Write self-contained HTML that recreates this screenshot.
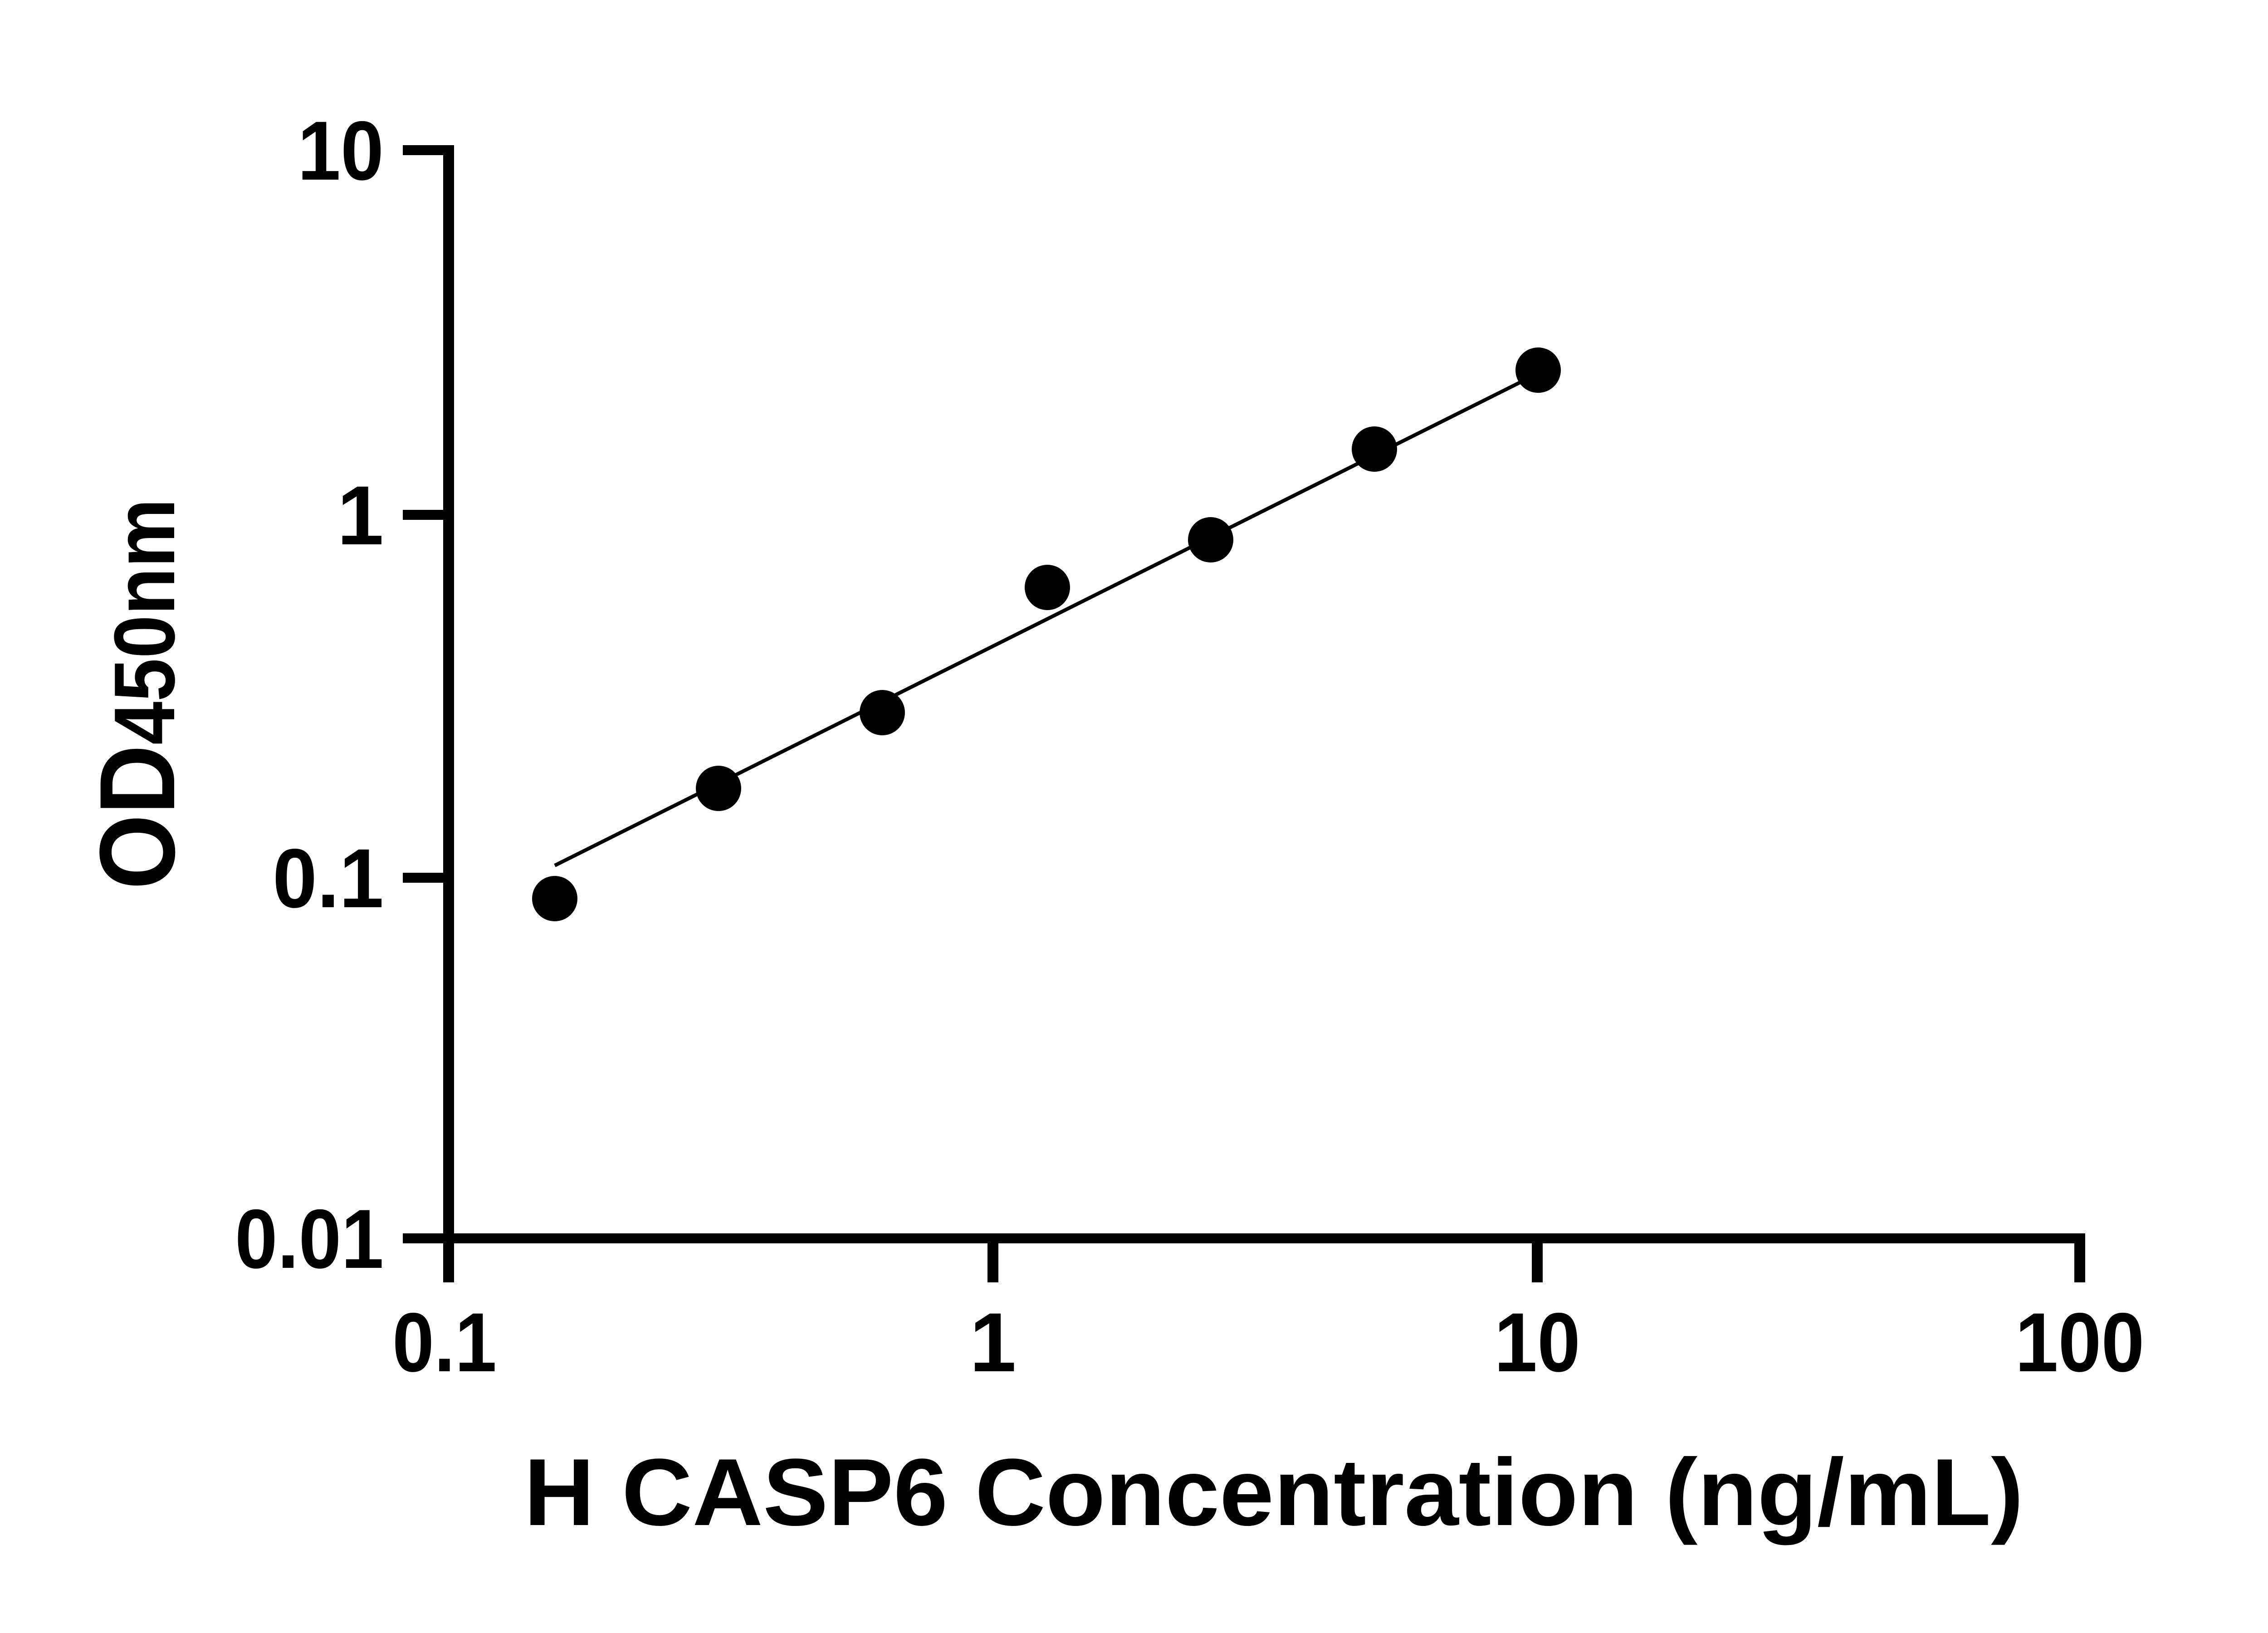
<!DOCTYPE html>
<html><head><meta charset="utf-8"><style>html,body{margin:0;padding:0;background:#fff}svg{display:block}</style></head>
<body>
<svg width="5142" height="3600" viewBox="0 0 5142 3600" xmlns="http://www.w3.org/2000/svg">
<rect width="5142" height="3600" fill="#fff"/>
<g stroke="#000" stroke-linecap="butt" fill="none">
<line x1="989" y1="320" x2="989" y2="2827" stroke-width="24"/>
<line x1="977" y1="2730" x2="4597" y2="2730" stroke-width="22"/>
<line x1="888" y1="331" x2="1001" y2="331" stroke-width="22"/>
<line x1="888" y1="1135" x2="1001" y2="1135" stroke-width="22"/>
<line x1="888" y1="1935" x2="1001" y2="1935" stroke-width="22"/>
<line x1="888" y1="2730" x2="1001" y2="2730" stroke-width="22"/>
<line x1="2189" y1="2730" x2="2189" y2="2827" stroke-width="24"/>
<line x1="3389" y1="2730" x2="3389" y2="2827" stroke-width="24"/>
<line x1="4585" y1="2730" x2="4585" y2="2827" stroke-width="24"/>
<line x1="1223" y1="1908" x2="3391" y2="823" stroke-width="8"/>
</g>
<g fill="#000">
<circle cx="1223" cy="1981" r="50"/>
<circle cx="1584" cy="1738" r="50"/>
<circle cx="1945" cy="1571" r="50"/>
<circle cx="2309" cy="1295" r="50"/>
<circle cx="2669" cy="1190" r="50"/>
<circle cx="3030" cy="990" r="50"/>
<circle cx="3391" cy="816" r="50"/>
</g>
<g font-family="Liberation Sans, sans-serif" font-weight="bold" font-size="185" fill="#000">
<text x="846" y="396" text-anchor="end" textLength="190" lengthAdjust="spacingAndGlyphs">10</text>
<text x="846" y="1200" text-anchor="end">1</text>
<text x="846" y="2000" text-anchor="end" textLength="245" lengthAdjust="spacingAndGlyphs">0.1</text>
<text x="846" y="2795" text-anchor="end" textLength="328" lengthAdjust="spacingAndGlyphs">0.01</text>
<text x="980" y="3023" text-anchor="middle" textLength="230" lengthAdjust="spacingAndGlyphs">0.1</text>
<text x="2189" y="3023" text-anchor="middle">1</text>
<text x="3389" y="3023" text-anchor="middle" textLength="190" lengthAdjust="spacingAndGlyphs">10</text>
<text x="4585" y="3023" text-anchor="middle" textLength="285" lengthAdjust="spacingAndGlyphs">100</text>
<text x="1155" y="3362" font-size="210" textLength="3306" lengthAdjust="spacingAndGlyphs">H CASP6 Concentration (ng/mL)</text>
<text transform="translate(384,1961) rotate(-90)" font-size="236" textLength="862" lengthAdjust="spacingAndGlyphs">OD<tspan font-size="190">450nm</tspan></text>
</g>
</svg>
</body></html>
